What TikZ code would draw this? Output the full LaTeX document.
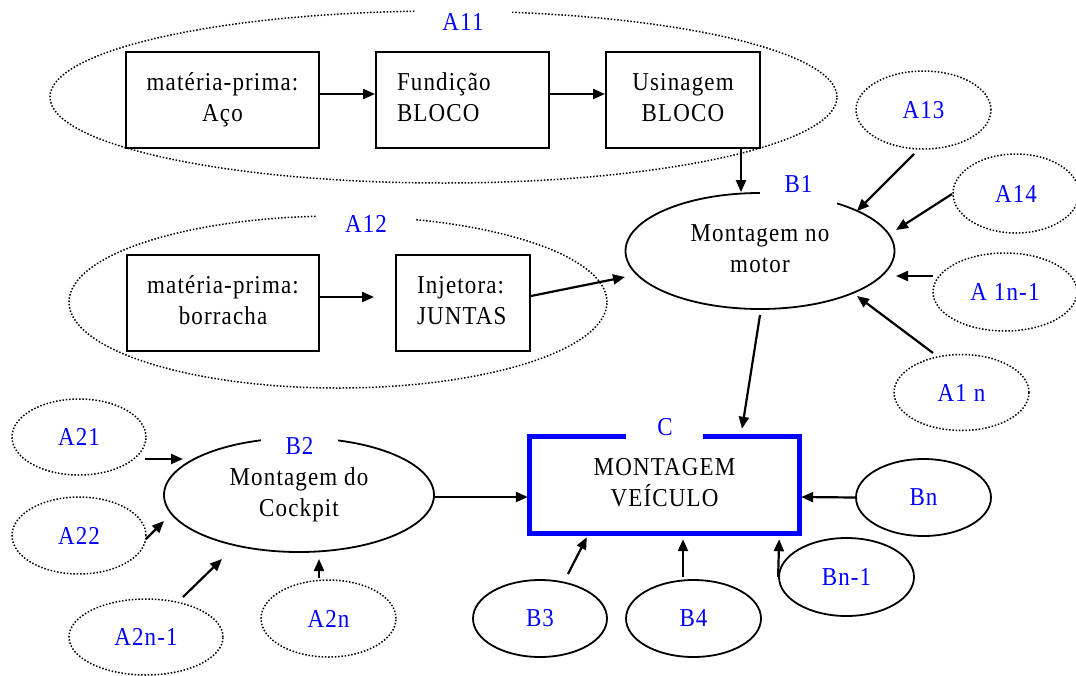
\documentclass[tikz,border=0pt]{standalone}
\usepackage{fontspec}
\setmainfont{Liberation Serif}[LetterSpace=5]
\usetikzlibrary{arrows.meta,shapes.geometric,calc}
% text is set slightly taller than its natural shape
\newcommand{\ctxt}[1]{\scalebox{1}[1.12]{\begin{tabular}{@{}c@{}}#1\end{tabular}}}
\newcommand{\ltxt}[1]{\scalebox{1}[1.12]{\begin{tabular}{@{}l@{}}#1\end{tabular}}}
\newcommand{\stxt}[1]{\scalebox{1}[1.12]{#1}}

\begin{document}
\begin{tikzpicture}[x=1pt,y=-1pt,
  txt/.style={font=\fontsize{23}{27.7}\selectfont, align=center},
  procbox/.style={draw, line width=2pt, minimum height=96, inner sep=0, txt},
  dotell/.style={ellipse, draw, line width=1.5pt, dash pattern=on 1.5pt off 1.8pt,
                 inner sep=0, txt, text=blue},
  solell/.style={ellipse, draw, line width=1.8pt, inner sep=0, txt},
  tag/.style={txt, text=blue, fill=white, inner sep=0},
  flow/.style={line width=2.2pt, -{Triangle[length=12pt,width=10pt]}},
  cline/.style={draw=blue, line width=5pt},
]
\useasboundingbox (0,0) rectangle (1076,675);

% ---- group A11: steel block line ----
\node[dotell, minimum width=787, minimum height=172] (a11) at (443.5,97) {};
\node[tag, minimum width=97, minimum height=26] (a11t) at (463,22) {\stxt{A11}};
\node[procbox, minimum width=193] (m1) at (222.5,100) {\ctxt{matéria-prima:\\Aço}};
\node[procbox, align=left, text width=131, inner xsep=21] (fu) at (462.5,100) {\ltxt{Fundição\\BLOCO}};
\node[procbox, minimum width=154] (us) at (683,100) {\ctxt{Usinagem\\BLOCO}};

% ---- group A12: rubber gaskets ----
\node[dotell, minimum width=538, minimum height=172] (a12) at (338,302) {};
\node[tag, minimum width=98, minimum height=24] (a12t) at (366,224) {\stxt{A12}};
\node[procbox, minimum width=192] (m2) at (223,303) {\ctxt{matéria-prima:\\borracha}};
\node[procbox, align=left, text width=92, inner xsep=21] (inj) at (463,303) {\ltxt{Injetora:\\JUNTAS}};

% ---- B1: engine assembly ----
\node[solell, minimum width=269, minimum height=116] (b1) at (760,251) {\raisebox{-2.5pt}{\ctxt{Montagem no\\motor}}};
\node[tag, minimum width=77, minimum height=46] (b1t) at (798.5,184) {\stxt{B1}};
\node[dotell, minimum width=135, minimum height=78] (a13) at (923.5,110) {\stxt{A13}};
\node[dotell, minimum width=126, minimum height=79] (a14) at (1016,193.5) {\stxt{A14}};
\node[dotell, minimum width=144, minimum height=78] (a1n1) at (1005,292) {\stxt{A 1n-1}};
\node[dotell, minimum width=135, minimum height=76] (a1n) at (961.5,392.5) {\stxt{A1 n}};

% ---- B2: cockpit assembly ----
\node[solell, minimum width=270, minimum height=114] (b2) at (299,495) {\raisebox{-2.5pt}{\ctxt{Montagem do\\Cockpit}}};
\node[tag, minimum width=77, minimum height=24] (b2t) at (299.5,446) {\stxt{B2}};
\node[dotell, minimum width=134, minimum height=76] (a21) at (79,437) {\stxt{A21}};
\node[dotell, minimum width=134, minimum height=77] (a22) at (79,535.5) {\stxt{A22}};
\node[dotell, minimum width=154, minimum height=76] (a2n1) at (146,637) {\stxt{A2n-1}};
\node[dotell, minimum width=135, minimum height=77] (a2n) at (328.5,618.5) {\stxt{A2n}};

% ---- C: vehicle assembly ----
\node[txt, minimum width=269, minimum height=97, inner sep=0] (c) at (664.5,485) {\ctxt{MONTAGEM\\VEÍCULO}};
\draw[cline] ($(c.north)+(-38.5,0)$) -| (c.south west) -| (c.north east) -- ($(c.north)+(38.5,0)$);
\node[txt, text=blue] (ct) at (665,427) {\stxt{C}};
\node[solell, text=blue, minimum width=135, minimum height=77] (bn) at (923.5,497.5) {\stxt{Bn}};
\node[solell, text=blue, minimum width=135, minimum height=78] (bn1) at (846.5,577) {\stxt{Bn-1}};
\node[solell, text=blue, minimum width=135, minimum height=77] (b4) at (693.5,618.5) {\stxt{B4}};
\node[solell, text=blue, minimum width=134, minimum height=77] (b3) at (540,618.5) {\stxt{B3}};

% ---- flows ----
\draw[flow] ([yshift=6pt]m1.east) -- ([yshift=6pt]fu.west);
\draw[flow] ([yshift=6pt]fu.east) -- ([yshift=6pt]us.west);
\draw[flow] ($(us.south)+(58,0)$) -- ($(b1.north)+(-19,0)$);
\draw[flow] ([yshift=6pt]m2.east) -- ($(inj.west)+(-21,-6)$);
\draw[flow] ($(inj.east)+(0,-7)$) -- ($(b1.center)+(-135,26)$);
\draw[flow] ($(a13.center)+(-9.5,44)$) -- ($(b1.center)+(97,-40)$);
\draw[flow] ($(a14.center)+(-64,0.5)$) -- ($(b1.center)+(136,-21)$);
\draw[flow] ($(a1n1.center)+(-72,-16)$) -- ($(b1.center)+(136,25)$);
\draw[flow] ($(a1n.center)+(-28.5,-39.5)$) -- ($(b1.center)+(97,45)$);
\draw[flow] ($(b1.center)+(0,64)$) -- ($(c.north)+(77.5,-7.5)$);
\draw[flow] ($(a21.center)+(66,22)$) -- ($(b2.center)+(-116,-36)$);
\draw[flow] ($(a22.center)+(67,3.5)$) -- ($(b2.center)+(-135,26)$);
\draw[flow] ($(a2n1.center)+(37,-40)$) -- ($(b2.center)+(-77,64)$);
\draw[flow] ($(a2n.center)+(-9.5,-40.5)$) -- ($(b2.center)+(20,64)$);
\draw[flow] ($(b2.east)+(0,2)$) -- ($(c.west)+(-2,12)$);
\draw[flow] (bn.west) -- ($(c.east)+(2,12)$);
\draw[flow] (bn1.west) -- ($(c.south east)+(-20,5.5)$);
\draw[flow] ($(b4.north)+(-10.5,-2)$) -- ($(c.south)+(18.5,5.5)$);
\draw[flow] ($(b3.center)+(28,-44.5)$) -- ($(c.south west)+(57,3.5)$);
\end{tikzpicture}
\end{document}
